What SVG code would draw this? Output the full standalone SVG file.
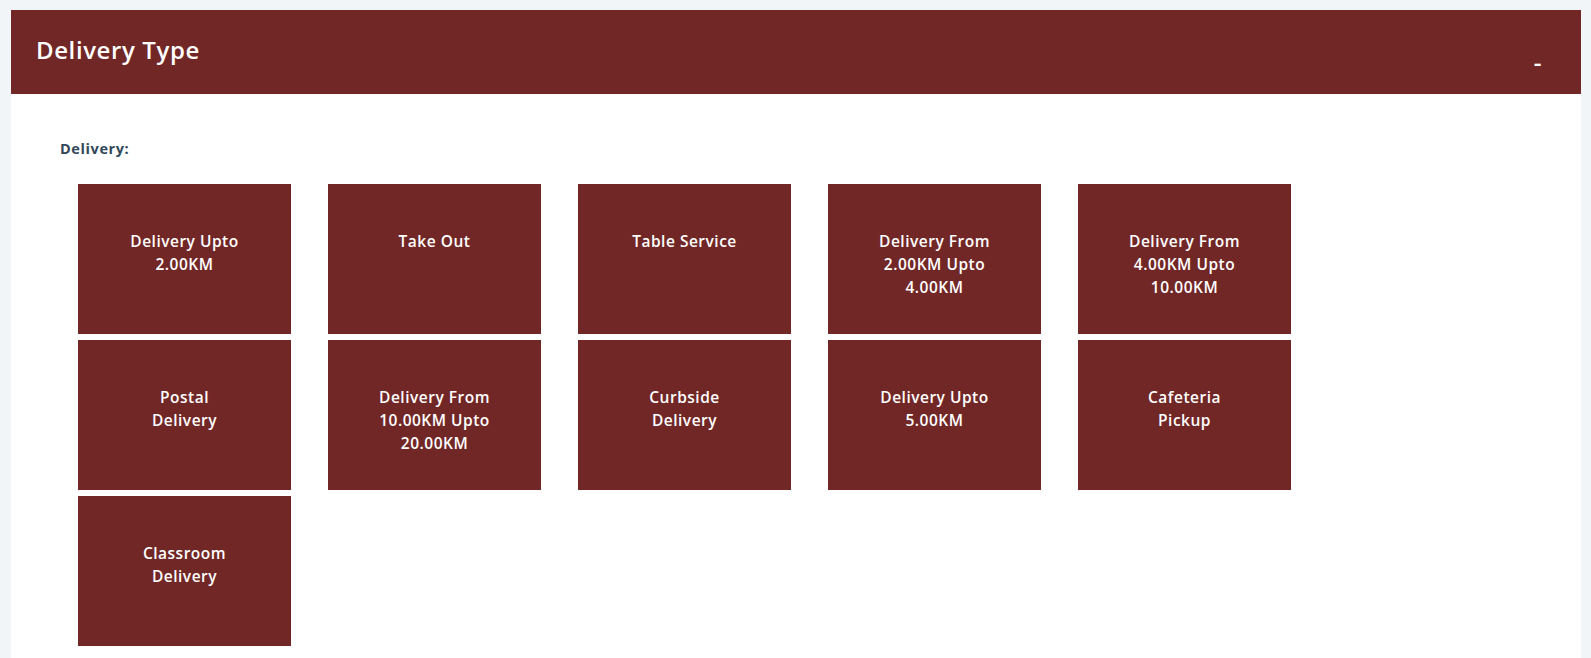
<svg xmlns="http://www.w3.org/2000/svg" width="1591" height="658" viewBox="0 0 1591 658">
<style>
.box{fill:#722727}
.lbl{font-family:"Open Sans","Liberation Sans",sans-serif;font-size:15.5px;font-weight:600;fill:#ffffff;text-anchor:middle;letter-spacing:0.5px}
.title{font-family:"Open Sans","Liberation Sans",sans-serif;font-size:24px;font-weight:600;fill:#ffffff;letter-spacing:0.6px}
.sec{font-family:"Open Sans","Liberation Sans",sans-serif;font-size:14.5px;font-weight:700;fill:#33475b;letter-spacing:0.6px}
</style>
<rect x="0" y="0" width="1591" height="658" fill="#f2f5f8"/>
<rect x="11" y="94" width="1570" height="564" fill="#ffffff"/>
<g id="header">
<rect x="11" y="10" width="1570" height="84" class="box"/>
<text x="36" y="59" class="title">Delivery Type</text>
<text x="1538" y="71" class="title" text-anchor="middle" font-size="36" font-weight="700" letter-spacing="0">-</text>
</g>
<text x="60" y="154" class="sec">Delivery:</text>
<g id="connectors"></g>
<g id="n1"><rect x="78" y="184" width="213" height="150" class="box"/><text class="lbl" x="184.5" y="247">Delivery Upto</text><text class="lbl" x="184.5" y="270">2.00KM</text></g>
<g id="n2"><rect x="328" y="184" width="213" height="150" class="box"/><text class="lbl" x="434.5" y="247">Take Out</text></g>
<g id="n3"><rect x="578" y="184" width="213" height="150" class="box"/><text class="lbl" x="684.5" y="247">Table Service</text></g>
<g id="n4"><rect x="828" y="184" width="213" height="150" class="box"/><text class="lbl" x="934.5" y="247">Delivery From</text><text class="lbl" x="934.5" y="270">2.00KM Upto</text><text class="lbl" x="934.5" y="293">4.00KM</text></g>
<g id="n5"><rect x="1078" y="184" width="213" height="150" class="box"/><text class="lbl" x="1184.5" y="247">Delivery From</text><text class="lbl" x="1184.5" y="270">4.00KM Upto</text><text class="lbl" x="1184.5" y="293">10.00KM</text></g>
<g id="n6"><rect x="78" y="340" width="213" height="150" class="box"/><text class="lbl" x="184.5" y="403">Postal</text><text class="lbl" x="184.5" y="426">Delivery</text></g>
<g id="n7"><rect x="328" y="340" width="213" height="150" class="box"/><text class="lbl" x="434.5" y="403">Delivery From</text><text class="lbl" x="434.5" y="426">10.00KM Upto</text><text class="lbl" x="434.5" y="449">20.00KM</text></g>
<g id="n8"><rect x="578" y="340" width="213" height="150" class="box"/><text class="lbl" x="684.5" y="403">Curbside</text><text class="lbl" x="684.5" y="426">Delivery</text></g>
<g id="n9"><rect x="828" y="340" width="213" height="150" class="box"/><text class="lbl" x="934.5" y="403">Delivery Upto</text><text class="lbl" x="934.5" y="426">5.00KM</text></g>
<g id="n10"><rect x="1078" y="340" width="213" height="150" class="box"/><text class="lbl" x="1184.5" y="403">Cafeteria</text><text class="lbl" x="1184.5" y="426">Pickup</text></g>
<g id="n11"><rect x="78" y="496" width="213" height="150" class="box"/><text class="lbl" x="184.5" y="559">Classroom</text><text class="lbl" x="184.5" y="582">Delivery</text></g>
</svg>
